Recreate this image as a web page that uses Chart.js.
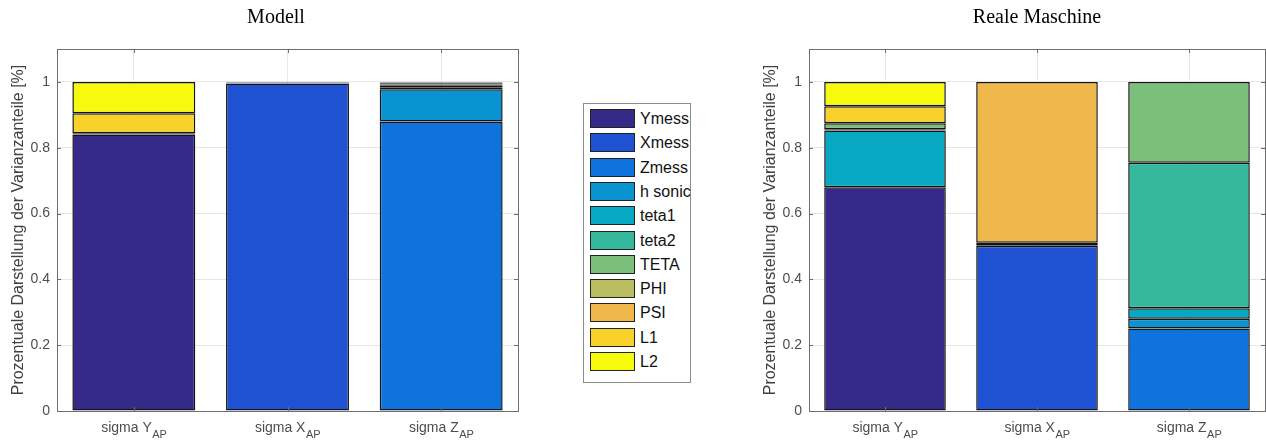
<!DOCTYPE html>
<html><head><meta charset="utf-8">
<script src="https://cdn.jsdelivr.net/npm/chart.js@4.4.0/dist/chart.umd.min.js"></script>
<style>
html,body{margin:0;padding:0;background:#fff;width:1266px;height:443px;overflow:hidden;position:relative;font-family:"Liberation Sans",Arial,sans-serif}
canvas{position:absolute;top:0}
#c1{left:0}
#c2{left:752px}
.title{position:absolute;top:6px;font-family:"Liberation Serif","Times New Roman",serif;font-size:20px;color:#000;transform:translateX(-50%);white-space:nowrap;line-height:1}
#legend{position:absolute;left:583px;top:103px;width:108px;height:280px;border:1px solid #8c8c8c;box-sizing:border-box;background:#fff}
.sw{position:absolute;left:6px;width:45px;height:19px;box-sizing:border-box;border:1px solid #222}
.lt{position:absolute;left:56px;font-size:16px;line-height:19px;color:#111;white-space:nowrap}
</style></head>
<body>
<canvas id="c1" width="530" height="443"></canvas>
<canvas id="c2" width="514" height="443"></canvas>
<div class="title" style="left:276px">Modell</div>
<div class="title" style="left:1037px">Reale Maschine</div>
<div id="legend"></div>
<script>
const categories = ['sigma Y', 'sigma X', 'sigma Z'];
const categorySub = 'AP';
const yTicks = [0, 0.2, 0.4, 0.6, 0.8, 1];
const yTitle = 'Prozentuale Darstellung der Varianzanteile [%]';
const seriesNames = ['Ymess','Xmess','Zmess','h sonic','teta1','teta2','TETA','PHI','PSI','L1','L2'];
const seriesColors = ['#352a87','#1f52d2','#0f73dd','#0a93d1','#06a8c2','#36b89c','#7bbf7b','#bbbd63','#f0b84a','#f8d22b','#f8fa0e'];

// Modell
const modYmess  = [0.84, null, null];
const modXmess  = [null, 0.995, null];
const modZmess  = [null, null, 0.88];
const modHsonic = [null, null, 0.098];
const modTeta1  = [0.004, 0.001, 0.004];
const modTeta2  = [null, 0.001, 0.006];
const modTETA   = [null, 0.001, 0.004];
const modPHI    = [null, 0.001, 0.004];
const modPSI    = [null, 0.001, 0.002];
const modL1     = [0.061, null, 0.001];
const modL2     = [0.095, null, 0.001];

// Reale Maschine
const realYmess  = [0.68, null, null];
const realXmess  = [null, 0.502, null];
const realZmess  = [null, null, 0.251];
const realHsonic = [null, null, 0.029];
const realTeta1  = [0.172, null, 0.032];
const realTeta2  = [0.004, null, 0.442];
const realTETA   = [0.018, null, 0.246];
const realPHI    = [null, 0.009, null];
const realPSI    = [null, 0.489, null];
const realL1     = [0.052, null, null];
const realL2     = [0.074, null, null];

const modelSeries = [modYmess, modXmess, modZmess, modHsonic, modTeta1, modTeta2, modTETA, modPHI, modPSI, modL1, modL2];
const realSeries = [realYmess, realXmess, realZmess, realHsonic, realTeta1, realTeta2, realTETA, realPHI, realPSI, realL1, realL2];

const FONT = '"Liberation Sans", Arial, sans-serif';
const AXIS = '#6e6e6e';
const GRID = '#e6e6e6';

const framePlugin = {
  id: 'frame',
  afterDraw(chart) {
    const {ctx, chartArea: a, scales} = chart;
    ctx.save();
    ctx.strokeStyle = AXIS;
    ctx.lineWidth = 1;
    ctx.beginPath();
    ctx.moveTo(a.left, a.top + 0.5); ctx.lineTo(a.right + 0.5, a.top + 0.5);
    ctx.moveTo(a.right + 0.5, a.top); ctx.lineTo(a.right + 0.5, a.bottom);
    scales.y.ticks.forEach(t => {
      const y = Math.round(scales.y.getPixelForValue(t.value)) + 0.5;
      ctx.moveTo(a.left, y); ctx.lineTo(a.left + 4, y);
      ctx.moveTo(a.right, y); ctx.lineTo(a.right - 4, y);
    });
    categories.forEach((c, i) => {
      const x = Math.round(scales.x.getPixelForValue(i)) + 0.5;
      ctx.moveTo(x, a.bottom); ctx.lineTo(x, a.bottom - 4);
      ctx.moveTo(x, a.top); ctx.lineTo(x, a.top + 4);
    });
    ctx.stroke();
    // category labels with subscript
    ctx.fillStyle = '#4d4d4d';
    ctx.textBaseline = 'alphabetic';
    ctx.textAlign = 'left';
    categories.forEach((c, i) => {
      const x = scales.x.getPixelForValue(i);
      ctx.font = '14px ' + FONT;
      const w1 = ctx.measureText(c).width;
      ctx.font = '11px ' + FONT;
      const w2 = ctx.measureText(categorySub).width;
      const x0 = x - (w1 + w2) / 2;
      ctx.font = '14px ' + FONT;
      ctx.fillText(c, x0, a.bottom + 21);
      ctx.font = '11px ' + FONT;
      ctx.fillText(categorySub, x0 + w1 + 0.5, a.bottom + 27);
    });
    ctx.restore();
  }
};

function makeChart(id, values, canvasWidth, plotRight) {
  const datasets = seriesNames.map((n, k) => ({
    label: n,
    data: values[k],
    backgroundColor: seriesColors[k],
    borderColor: '#141414',
    borderWidth: 1.5,
    borderSkipped: false,
    barPercentage: 0.8,
    categoryPercentage: 1
  }));
  return new Chart(document.getElementById(id), {
    type: 'bar',
    data: {labels: categories, datasets},
    plugins: [framePlugin],
    options: {
      responsive: false,
      animation: false,
      devicePixelRatio: 1,
      layout: {padding: {left: 0, top: 49, right: canvasWidth - plotRight, bottom: 32}},
      plugins: {legend: {display: false}, tooltip: {enabled: false}, title: {display: false}},
      scales: {
        x: {
          stacked: true,
          offset: true,
          grid: {offset: false, color: GRID, drawTicks: false},
          border: {display: true, color: AXIS},
          ticks: {display: false},
          afterFit: s => { s.height = 0; }
        },
        y: {
          stacked: true,
          min: 0, max: 1.1,
          afterBuildTicks: s => { s.ticks = yTicks.map(v => ({value: v})); },
          ticks: {
            padding: 7, color: '#4d4d4d', font: {size: 14, family: FONT},
            callback: v => String(Math.round(v * 10) / 10)
          },
          grid: {color: GRID, drawTicks: false},
          border: {display: true, color: AXIS},
          title: {display: true, text: yTitle, color: '#404040', font: {size: 16, family: FONT}, padding: {top: 9, bottom: 0}},
          afterFit: s => { s.width = 57; }
        }
      }
    }
  });
}

makeChart('c1', modelSeries, 530, 518);
makeChart('c2', realSeries, 514, 513);

// legend
const lg = document.getElementById('legend');
seriesNames.forEach((n, k) => {
  const top = 5 + k * 24.3;
  const sw = document.createElement('div');
  sw.className = 'sw';
  sw.style.top = top + 'px';
  sw.style.background = seriesColors[k];
  lg.appendChild(sw);
  const t = document.createElement('div');
  t.className = 'lt';
  t.style.top = top + 'px';
  t.textContent = n;
  lg.appendChild(t);
});
</script>
</body></html>
